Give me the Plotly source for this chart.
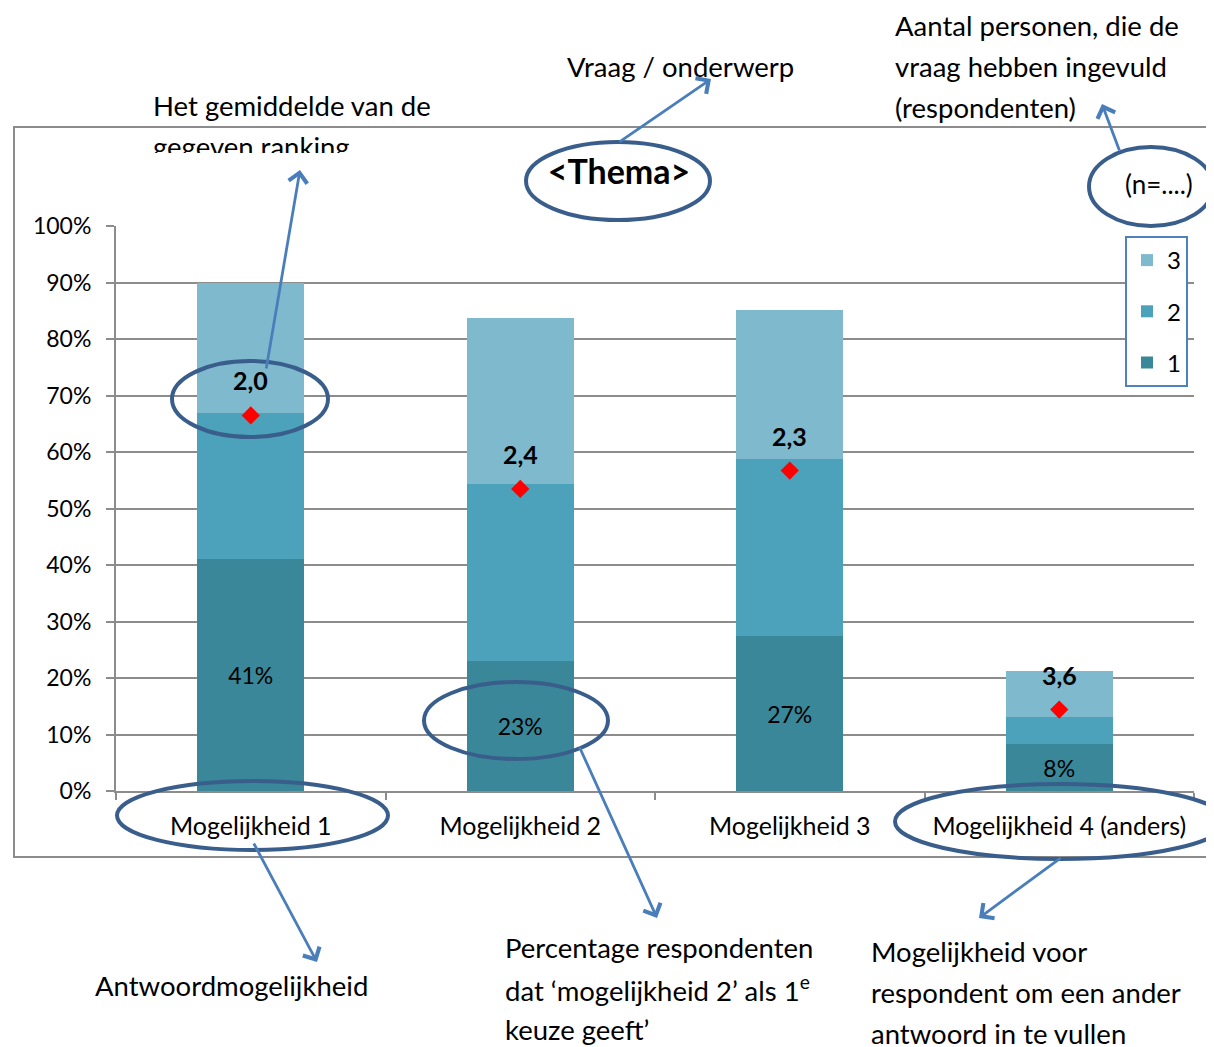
import plotly.graph_objects as go

# ---------------- data ----------------
categories = ["Mogelijkheid 1", "Mogelijkheid 2", "Mogelijkheid 3", "Mogelijkheid 4 (anders)"]
rank1 = [41.1, 23.0, 27.4, 8.3]   # % gave rank 1
rank2 = [25.8, 31.3, 31.3, 4.8]   # % gave rank 2
rank3 = [23.1, 29.4, 26.5, 8.1]   # % gave rank 3
mean_rank = [2.0, 2.4, 2.3, 3.6]  # average ranking
series_names = ["1", "2", "3"]
y_ticks = list(range(0, 101, 10))
y_tick_text = [f"{v}%" for v in y_ticks]

colors = ["#398799", "#4BA2BA", "#7EB9CE"]
ELL = "#3A5E8C"
ARR = "#4A7EBB"
GRID = "#8c8c8c"
FONT = "Lato"
ANN_SIZE = 27.5

# page layout (page pixels; the page body adds an 8px offset)
OFF = 8
W, H = 1214, 1047
PL, PR, PT, PB = 116, 1194, 226, 791   # plot area in page pixels
PW, PH = PR - PL, PB - PT


def px(x):
    return (x - PL) / PW


def py(y):
    return (PB - y) / PH


fig = go.Figure()
for i, (name, vals, col) in enumerate(zip(series_names, [rank1, rank2, rank3], colors)):
    kw = {}
    if name == "1":
        kw = dict(texttemplate="%{y:.0f}%", textposition="inside", insidetextanchor="middle",
                  textfont=dict(family=FONT, size=23, color="black"), textangle=0)
    fig.add_trace(go.Bar(x=categories, y=vals, name=name, marker_color=col,
                         marker_line_width=0, legendgroup=name, legendrank=10 - i, **kw))

fig.add_trace(go.Scatter(x=categories, y=mean_rank, yaxis="y2", mode="markers",
                         marker=dict(symbol="diamond", size=14, color="#FF0000"),
                         showlegend=False))

annotations = []
# mean labels
for c, m in zip(categories, mean_rank):
    annotations.append(dict(x=c, y=m, xref="x", yref="y2", yshift=35, showarrow=False,
                            text="<b>" + f"{m:.1f}".replace(".", ",") + "</b>",
                            font=dict(family=FONT, size=25, color="black")))

# explanatory texts (left-anchored lines), page pixels
text_lines = [
    ("Het gemiddelde van de", 151, 106),
    ("Vraag / onderwerp", 565, 67),
    ("Aantal personen, die de", 893, 26),
    ("vraag hebben ingevuld", 893, 67),
    ("(respondenten)", 893, 107),
    ("Antwoordmogelijkheid", 93, 985),
    ("Percentage respondenten", 503, 947),
    ("dat ‘mogelijkheid 2’ als 1<sup>e</sup>", 503, 988),
    ("keuze geeft’", 503, 1029),
    ("Mogelijkheid voor", 869, 951),
    ("respondent om een ander", 869, 992),
    ("antwoord in te vullen", 869, 1033),
]
for t, x, y in text_lines:
    annotations.append(dict(text=t, x=px(x), y=py(y), xref="paper", yref="paper",
                            xanchor="left", yanchor="middle", showarrow=False,
                            font=dict(family=FONT, size=ANN_SIZE, color="black")))

# clipped second line
annotations.append(dict(text="gegeven ranking", x=px(151), y=py(128), xref="paper", yref="paper",
                        xanchor="left", yanchor="top", valign="top", height=23, showarrow=False,
                        font=dict(family=FONT, size=ANN_SIZE, color="black")))

annotations.append(dict(text="(n=....)", x=px(1159), y=py(184), xref="paper", yref="paper",
                        xanchor="center", yanchor="middle", showarrow=False,
                        font=dict(family=FONT, size=26, color="black")))

# arrows: (tail_x, tail_y, head_x, head_y) in page pixels
arrows = [
    (266, 370, 300, 170),
    (618, 143, 711, 79),
    (1120, 152, 1102, 104),
    (253, 842, 317, 962),
    (579, 746, 657, 918),
    (1062, 857, 979, 918),
]
for tx, ty, hx, hy in arrows:
    annotations.append(dict(text="", x=px(hx), y=py(hy), xref="paper", yref="paper",
                            ax=tx - hx, ay=ty - hy, axref="pixel", ayref="pixel",
                            showarrow=True, arrowhead=4, arrowsize=1.3, arrowwidth=2.8,
                            arrowcolor=ARR, standoff=0, startstandoff=0))

shapes = [dict(type="rect", xref="paper", yref="paper", x0=px(14), x1=px(1240), y0=py(857), y1=py(127),
               line=dict(color=GRID, width=2), layer="below")]
ellipses = [
    (172, 361, 328, 437),
    (424, 682, 608, 759),
    (526, 142, 710, 220),
    (1089, 147, 1213, 226),
    (117, 781, 388, 850),
    (895, 784, 1226, 859),
]
for x0, y0, x1, y1 in ellipses:
    shapes.append(dict(type="circle", xref="paper", yref="paper", x0=px(x0), x1=px(x1),
                       y0=py(y1), y1=py(y0), line=dict(color=ELL, width=4), layer="above"))

fig.update_layout(
    width=W, height=H,
    margin=dict(l=PL - OFF, r=W - (PR - OFF), t=PT - OFF, b=H - (PB - OFF), pad=0),
    barmode="stack", bargap=0.603,
    plot_bgcolor="white", paper_bgcolor="white",
    font=dict(family=FONT, size=24, color="black"),
    title=dict(text="<b>&lt;Thema&gt;</b>", x=px(619), xref="paper", xanchor="center",
               y=1 - (172 - OFF) / H, yanchor="middle", font=dict(family=FONT, size=34, color="black")),
    xaxis=dict(type="category", showline=True, linecolor=GRID, linewidth=2, ticks="outside",
               tickson="boundaries", ticklen=7, tickwidth=2, tickcolor=GRID, showgrid=False,
               ticklabelstandoff=12, tickfont=dict(size=25)),
    yaxis=dict(range=[0, 100], tickvals=y_ticks, ticktext=y_tick_text, showgrid=True, gridcolor=GRID,
               gridwidth=2, showline=True, linecolor=GRID, linewidth=2, ticks="outside",
               ticklen=8, tickwidth=2, tickcolor=GRID, zeroline=False, ticklabelstandoff=10,
               tickfont=dict(size=23)),
    yaxis2=dict(overlaying="y", range=[4.043, 0.970], visible=False),
    legend=dict(x=px(1125), y=py(236), xanchor="left", yanchor="top", bordercolor="#4F81BD",
                borderwidth=2, bgcolor="white", font=dict(size=24), traceorder="grouped",
                tracegroupgap=17, itemwidth=30),
    annotations=annotations,
    shapes=shapes,
    showlegend=True,
)

fig.write_html("out.html")
